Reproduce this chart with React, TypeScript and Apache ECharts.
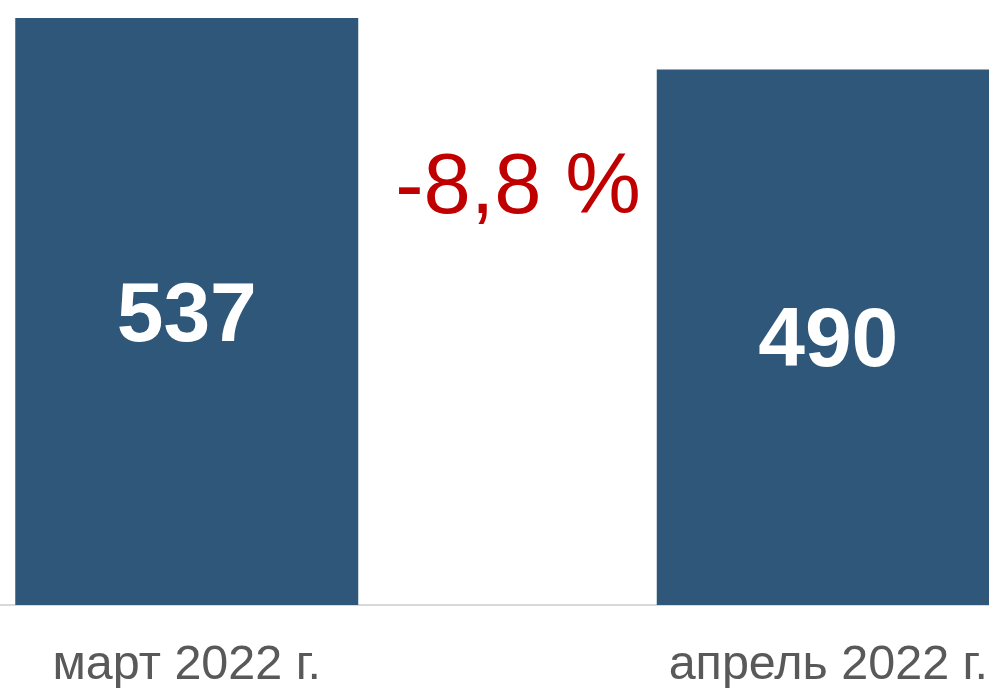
import React, { useEffect, useRef } from "react";
import * as echarts from "echarts";

const categories = ["март 2022 г.", "апрель 2022 г."];
const values = [537, 490];
const changeLabel = "-8,8 %";

const SHIFT = 134;

export default function App() {
  const ref = useRef<HTMLDivElement>(null);
  useEffect(() => {
    if (!ref.current) return;
    const chart = echarts.init(ref.current, undefined, { renderer: "svg" });
    chart.setOption({
      animation: false,
      backgroundColor: "#ffffff",
      grid: { left: 0, right: 0, top: 18, bottom: 83, containLabel: false },
      xAxis: {
        type: "category",
        data: categories,
        boundaryGap: true,
        axisLine: { show: true, lineStyle: { color: "#D9D9D9", width: 2 } },
        axisTick: { show: false },
        axisLabel: {
          color: "#595959",
          fontSize: 48.5,
          lineHeight: 44,
          fontFamily: "Liberation Sans, Arial, sans-serif",
          margin: 35,
          interval: 0,
        },
      },
      yAxis: {
        type: "value",
        min: 0,
        max: 537,
        show: false,
        splitLine: { show: false },
      },
      series: [
        {
          type: "bar",
          data: values,
          barWidth: 343,
          itemStyle: { color: "#2E5779" },
          label: {
            show: true,
            position: "inside",
            color: "#ffffff",
            fontSize: 84,
            fontWeight: "bold",
            fontFamily: "Liberation Sans, Arial, sans-serif",
          },
        },
      ],
      graphic: [
        {
          type: "text",
          x: 518 + SHIFT,
          y: 183,
          z: 100,
          style: {
            text: changeLabel,
            fill: "#C00000",
            fontSize: 85,
            fontFamily: "Liberation Sans, Arial, sans-serif",
            textAlign: "center",
            textVerticalAlign: "middle",
          },
        },
      ],
    });
    return () => chart.dispose();
  }, []);
  return (
    <div
      style={{
        position: "absolute",
        left: 0,
        top: 0,
        width: 989,
        height: 688,
        overflow: "hidden",
        background: "#ffffff",
      }}
    >
      <div
        ref={ref}
        style={{ position: "absolute", left: -SHIFT, top: 0, width: 1283, height: 688 }}
      />
    </div>
  );
}
